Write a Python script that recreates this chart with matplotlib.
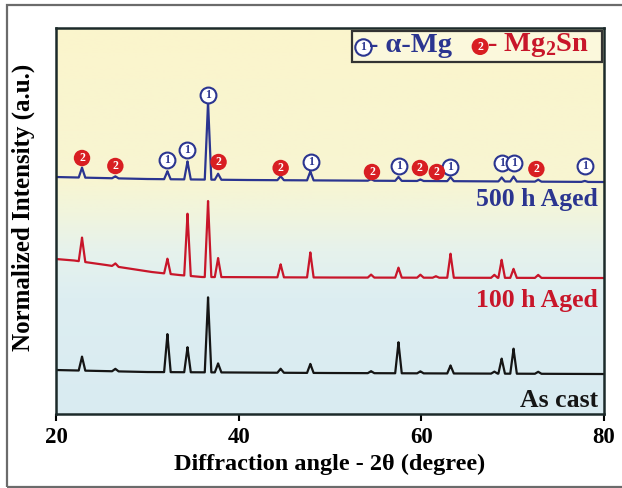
import numpy as np
import matplotlib.pyplot as plt
from matplotlib.colors import LinearSegmentedColormap
from matplotlib.patches import Rectangle

plt.rcParams['font.family'] = ['Liberation Serif', 'DejaVu Serif']
plt.rcParams['font.weight'] = 'bold'
plt.rcParams['axes.labelweight'] = 'bold'
plt.rcParams['mathtext.fontset'] = 'custom'
plt.rcParams['mathtext.rm'] = 'Liberation Serif:bold'
plt.rcParams['mathtext.bf'] = 'Liberation Serif:bold'

# peak positions (2theta, degree) and heights (a.u.)
peak_pos = [22.85, 26.5, 32.2, 34.4, 36.65, 37.75, 44.6, 47.85, 54.5, 57.5,
            59.9, 61.6, 63.2, 68.0, 68.8, 70.1, 72.8, 77.9]
h_500 = [10, 2, 8, 18, 78, 6, 4, 9, 1.5, 4, 1.5, 0, 4, 0, 4, 5, 2, 1]
h_100 = [24, 3, 15, 62, 76, 19, 13, 25, 3, 10, 3, 1.5, 24, 3, 18, 9, 3, 0]
h_cast = [14, 2.5, 38, 25, 75, 9, 4, 9, 2, 31, 2, 0, 8, 2, 15, 25, 2, 0]

# baselines (position, level)
base_500_x = [20, 30, 41, 80]
base_500_y = [237, 235, 234, 232]
base_100_x = [20, 22.0, 25.5, 30.5, 33.5, 36.0, 50, 80]
base_100_y = [155, 153.5, 149, 142, 139, 137, 136.5, 136]
base_cast_x = [20, 30, 50, 80]
base_cast_y = [44, 42, 41, 40]

# phase markers
mg_pos = [32.2, 34.4, 36.65, 47.9, 57.55, 63.1, 68.8, 70.15, 77.9]
mg_y = [254, 264, 319, 252, 248, 247, 251, 251, 248]
sn_pos = [22.85, 26.5, 37.8, 44.6, 54.6, 59.85, 61.7, 72.6]
sn_y = [256, 248, 252, 246, 242, 246, 242, 245]

BLUE = '#2b3590'
RED = '#c8162a'
BLACK = '#151515'


def pattern(base_x, base_y, heights, w=0.36):
    xs = list(base_x)
    ys = list(base_y)
    for p, h in zip(peak_pos, heights):
        if h <= 0:
            continue
        b = np.interp(p, base_x, base_y)
        xs += [p - w, p - 0.05, p, p + 0.05, p + w]
        ys += [np.interp(p - w, base_x, base_y), b + 0.85 * h, b + h, b + 0.85 * h,
               np.interp(p + w, base_x, base_y)]
    order = np.argsort(xs)
    return np.array(xs)[order], np.array(ys)[order]


fig = plt.figure(figsize=(6.22, 4.88), dpi=100)
ax = fig.add_axes([0.090, 0.1516, 0.881, 0.791])

# background gradient
cmap = LinearSegmentedColormap.from_list('bg', [
    (0.0, '#d9ebf1'), (0.3, '#ddeef2'), (0.42, '#e6f2ec'),
    (0.52, '#f1f5dd'), (0.6, '#f8f5d2'), (1.0, '#fbf5cc')])
grad = np.linspace(0, 1, 256).reshape(-1, 1)
ax.imshow(grad, extent=[20, 80, 0, 386], origin='lower', aspect='auto',
          cmap=cmap, zorder=0)

for bx, by, hh, col in [(base_500_x, base_500_y, h_500, BLUE),
                        (base_100_x, base_100_y, h_100, RED),
                        (base_cast_x, base_cast_y, h_cast, BLACK)]:
    x, y = pattern(bx, by, hh)
    ax.plot(x, y, color=col, lw=1.6, zorder=2)

ax.scatter(mg_pos, mg_y, s=130, facecolor='white', edgecolor=BLUE, linewidth=1.5, zorder=4)
for p, y in zip(mg_pos, mg_y):
    ax.text(p, y, '1', color=BLUE, fontsize=8.5, ha='center', va='center', zorder=5)
ax.scatter(sn_pos, sn_y, s=140, facecolor='#d81e22', edgecolor='none', zorder=4)
for p, y in zip(sn_pos, sn_y):
    ax.text(p, y, '2', color='white', fontsize=8.5, ha='center', va='center', zorder=5)

ax.text(0.989, 0.557, '500 h Aged', color=BLUE, fontsize=18.5, ha='right', va='center',
        transform=ax.transAxes)
ax.text(0.989, 0.293, '100 h Aged', color=RED, fontsize=18.5, ha='right', va='center',
        transform=ax.transAxes)
ax.text(0.989, 0.036, 'As cast', color=BLACK, fontsize=18.5, ha='right', va='center',
        transform=ax.transAxes)

# legend box
ax.add_patch(Rectangle((0.540, 0.912), 0.456, 0.080, transform=ax.transAxes,
                       facecolor='#fbf8dc', edgecolor='#333333', lw=1.6, zorder=6))
ax.scatter([0.560], [0.952], s=140, facecolor='white', edgecolor=BLUE, linewidth=1.5,
           transform=ax.transAxes, zorder=7)
ax.text(0.560, 0.952, '1', color=BLUE, fontsize=8.5, ha='center', va='center',
        transform=ax.transAxes, zorder=8)
ax.text(0.572, 0.955, '- α-Mg', color=BLUE, fontsize=20.5, ha='left', va='center',
        transform=ax.transAxes, zorder=8)
ax.scatter([0.774], [0.952], s=150, facecolor='#d81e22', edgecolor='none',
           transform=ax.transAxes, zorder=7)
ax.text(0.774, 0.952, '2', color='white', fontsize=8.5, ha='center', va='center',
        transform=ax.transAxes, zorder=8)
ax.text(0.786, 0.955, r'- Mg$_\mathbf{2}$Sn', color=RED, fontsize=20.5, ha='left', va='center',
        transform=ax.transAxes, zorder=8)

ax.set_xlim(20, 80)
ax.set_ylim(0, 386)
ax.set_xticks([20, 40, 60, 80])
ax.set_yticks([])
ax.tick_params(axis='x', direction='out', length=5, width=1.5, labelsize=16.5, pad=4)
for s in ax.spines.values():
    s.set_linewidth(1.8)
    s.set_color('#1c2a2a')
ax.set_xlabel('Diffraction angle - 2θ (degree)', fontsize=17.5)
ax.set_ylabel('Normalized Intensity (a.u.)', fontsize=18)
ax.xaxis.set_label_coords(0.5, -0.103)
ax.yaxis.set_label_coords(-0.038, 0.536)

# outer frame
fig.add_artist(Rectangle((0.011, 0.002), 1.2, 0.987, transform=fig.transFigure,
                         facecolor='none', edgecolor='#6b6b6b', lw=1.6))

fig.savefig('out.png', dpi=100)
